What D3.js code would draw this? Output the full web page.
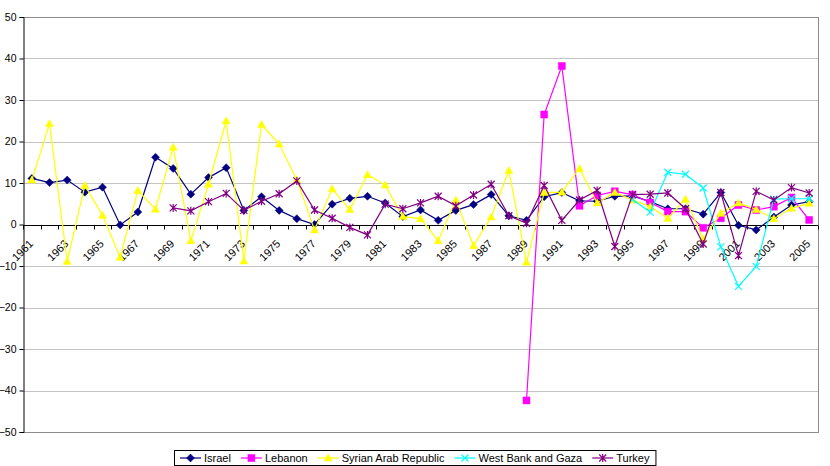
<!DOCTYPE html>
<html>
<head>
<meta charset="utf-8">
<script src="https://cdn.jsdelivr.net/npm/d3@7"></script>
<style>
  body { margin: 0; background: #fff; }
  text { font-family: Arial, "Liberation Sans", sans-serif; font-size: 11px; fill: #000; }
</style>
</head>
<body>
<script>
var years = d3.range(1961, 2006);
var yTicks = [-50, -40, -30, -20, -10, 0, 10, 20, 30, 40, 50];

var israel = [11.1, 10.1, 10.7, 7.8, 9.0, -0.1, 3.0, 16.2, 13.5, 7.3,
  11.3, 13.7, 3.4, 6.7, 3.4, 1.4, 0.0, 4.9, 6.3, 6.8,
  5.2, 1.9, 3.5, 1.0, 3.4, 4.8, 7.2, 2.1, 1.0, 6.7,
  7.7, 5.7, 5.6, 6.8, 6.9, 5.5, 3.8, 3.8, 2.5, 7.7,
  -0.2, -1.3, 1.8, 4.7, 5.5];

var lebanon = [null, null, null, null, null, null, null, null, null, null,
  null, null, null, null, null, null, null, null, null, null,
  null, null, null, null, null, null, null, null, -42.4, 26.5,
  38.2, 4.5, 7.0, 8.0, 7.2, 5.3, 3.1, 3.1, -0.8, 1.5,
  4.7, 3.5, 4.3, 6.5, 1.1];

var syria = [10.7, 24.3, -8.9, 9.4, 2.2, -7.9, 8.2, 3.7, 18.6, -3.9,
  9.7, 25.0, -8.8, 24.1, 19.4, 10.8, -1.3, 8.6, 3.6, 12.0,
  9.5, 1.9, 1.4, -3.9, 5.9, -5.1, 1.8, 13.0, -9.1, 7.7,
  7.8, 13.5, 5.2, 7.7, 5.9, 4.3, 1.5, 6.1, -3.5, 2.7,
  5.2, 3.6, 1.4, 3.9, 5.1];

var westBank = [null, null, null, null, null, null, null, null, null, null,
  null, null, null, null, null, null, null, null, null, null,
  null, null, null, null, null, null, null, null, null, null,
  null, null, null, null, 6.0, 3.0, 12.6, 12.1, 8.8, -5.4,
  -14.9, -10.1, 6.1, 6.2, 6.2];

var turkey = [null, null, null, null, null, null, null, null, 4.0, 3.3,
  5.5, 7.5, 3.4, 5.6, 7.4, 10.5, 3.5, 1.5, -0.7, -2.5,
  4.9, 3.8, 5.2, 6.8, 4.5, 7.1, 9.7, 2.1, 0.3, 9.4,
  1.0, 5.9, 8.2, -5.3, 7.2, 7.3, 7.6, 3.8, -4.7, 7.7,
  -7.5, 8.0, 5.9, 8.9, 7.6];

var seriesNames = ["Israel", "Lebanon", "Syrian Arab Republic", "West Bank and Gaza", "Turkey"];
var seriesValues = [israel, lebanon, syria, westBank, turkey];
var colors = ["#000080", "#ff00ff", "#ffff00", "#00ffff", "#800080"];
var markers = [
  "M0,-4L4,0L0,4L-4,0Z",
  "M-3.5,-3.5H3.5V3.5H-3.5Z",
  "M0,-4L4,3L-4,3Z",
  "M-3.5,-3.5L3.5,3.5M-3.5,3.5L3.5,-3.5",
  "M-3.5,-3.5L3.5,3.5M-3.5,3.5L3.5,-3.5M0,-4V4"
];
var filled = [true, true, true, false, false];

var width = 830, height = 466;
var plotLeft = 23, plotRight = 818, plotTop = 17, plotBottom = 432;

var svg = d3.select("body").append("svg")
    .attr("width", width)
    .attr("height", height);

var x = d3.scaleBand().domain(years).range([plotLeft, plotRight]);
var y = d3.scaleLinear().domain([-50, 50]).range([plotBottom, plotTop]);

// gridlines
svg.append("g").selectAll("line")
    .data(yTicks)
    .enter().append("line")
    .attr("x1", plotLeft).attr("x2", plotRight)
    .attr("y1", function (d) { return Math.round(y(d)) + 0.5; })
    .attr("y2", function (d) { return Math.round(y(d)) + 0.5; })
    .attr("stroke", function (d) { return (d == 50 || d == -50) ? "#8c8c8c" : "#c4c4c4"; })
    .attr("stroke-width", 1);

// right border
svg.append("line")
    .attr("x1", plotRight + 0.5).attr("x2", plotRight + 0.5)
    .attr("y1", plotTop).attr("y2", plotBottom + 1)
    .attr("stroke", "#8c8c8c");

// y axis
var yAxis = d3.axisLeft(y).tickValues(yTicks).tickSize(4).tickPadding(3);
var gy = svg.append("g")
    .attr("transform", "translate(" + (plotLeft + 0.5) + ",0)")
    .call(yAxis);
gy.select(".domain").attr("stroke", "#000");
gy.selectAll("text").style("font-size", "10.5px").attr("font-family", null);

// x axis on zero line
var zeroY = Math.round(y(0)) + 0.5;
svg.append("line")
    .attr("x1", plotLeft).attr("x2", plotRight)
    .attr("y1", zeroY).attr("y2", zeroY)
    .attr("stroke", "#000");

svg.append("g").selectAll("line")
    .data(years.concat([2006]))
    .enter().append("line")
    .attr("x1", function (d) { return d == 2006 ? plotRight + 0.5 : Math.round(x(d)) + 0.5; })
    .attr("x2", function (d) { return d == 2006 ? plotRight + 0.5 : Math.round(x(d)) + 0.5; })
    .attr("y1", zeroY)
    .attr("y2", zeroY + 4)
    .attr("stroke", "#000");

svg.append("g").selectAll("text")
    .data(years.filter(function (d) { return (d - 1961) % 2 == 0; }))
    .enter().append("text")
    .attr("text-anchor", "end")
    .attr("transform", function (d) {
      return "translate(" + (x(d) + x.bandwidth() / 2 + 2) + "," + (zeroY + 19) + ") rotate(-45)";
    })
    .text(function (d) { return d; });

// series
var line = d3.line()
    .defined(function (d) { return d.v != null; })
    .x(function (d) { return x(d.year) + x.bandwidth() / 2; })
    .y(function (d) { return y(d.v); });

for (var s = 0; s < seriesNames.length; s++) {
  var pts = years.map(function (yr, i) { return { year: yr, v: seriesValues[s][i] }; });
  var g = svg.append("g").attr("class", "series" + s);

  g.append("path")
      .attr("fill", "none")
      .attr("stroke", colors[s])
      .attr("stroke-width", 1.2)
      .attr("d", line(pts));

  g.selectAll("path.mk")
      .data(pts.filter(function (d) { return d.v != null; }))
      .enter().append("path")
      .attr("class", "mk")
      .attr("transform", function (d) {
        return "translate(" + (x(d.year) + x.bandwidth() / 2) + "," + y(d.v) + ")";
      })
      .attr("d", markers[s])
      .attr("fill", filled[s] ? colors[s] : "none")
      .attr("stroke", colors[s])
      .attr("stroke-width", filled[s] ? 0.5 : 1.2);
}

// legend
var legend = svg.append("g");
var legY = 458;
var cx = 0;
for (var k = 0; k < seriesNames.length; k++) {
  var it = legend.append("g");
  it.append("line")
      .attr("x1", 0).attr("x2", 21)
      .attr("y1", 0).attr("y2", 0)
      .attr("stroke", colors[k])
      .attr("stroke-width", 1.2);
  it.append("path")
      .attr("transform", "translate(10.5,0)")
      .attr("d", markers[k])
      .attr("fill", filled[k] ? colors[k] : "none")
      .attr("stroke", colors[k])
      .attr("stroke-width", filled[k] ? 0.5 : 1.2);
  var t = it.append("text")
      .attr("x", 24)
      .attr("y", 4)
      .text(seriesNames[k]);
  var w = 24 + t.node().getComputedTextLength();
  it.attr("transform", "translate(" + cx + "," + legY + ")");
  cx += w + 10;
}
var totalW = cx - 10;
var boxW = totalW + 12;
var boxX = Math.round(width / 2 - boxW / 2);
legend.attr("transform", "translate(" + (boxX + 6) + ",0)");
svg.insert("rect", "g")
    .attr("x", boxX + 0.5)
    .attr("y", 450.5)
    .attr("width", boxW)
    .attr("height", 15)
    .attr("fill", "#fff")
    .attr("stroke", "#000");
</script>
</body>
</html>
